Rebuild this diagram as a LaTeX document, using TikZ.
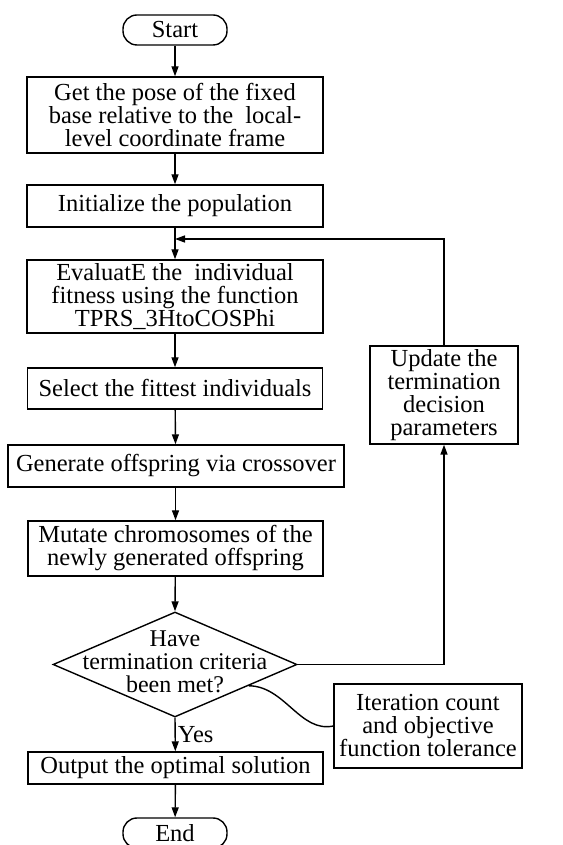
\documentclass[tikz,border=0pt]{standalone}
\usepackage{fontspec}
\setmainfont{Liberation Serif}
\usetikzlibrary{shapes.geometric,arrows.meta,calc}

\begin{document}
\begin{tikzpicture}[x=1pt, y=1pt,
  box/.style={draw, line width=1.4pt, align=center, inner sep=1pt,
    font=\fontsize{24.5}{23}\selectfont},
  term/.style={box, rounded corners=14pt, minimum width=104pt, minimum height=30pt},
  flow/.style={line width=1.4pt, -{Triangle[length=10pt,width=7pt]}},
  link/.style={line width=1.4pt}]
  \useasboundingbox (0,0) rectangle (562,845);

  % Main column
  \node[term] (start) at (175,815) {Start};
  \node[box, minimum width=296pt, minimum height=76pt] (pose) at (175,730)
    {Get the pose of the fixed\\base relative to the~ local-\\level coordinate frame};
  \node[box, minimum width=296pt, minimum height=42pt] (init) at (175,639)
    {Initialize the population};
  \node[box, minimum width=296pt, minimum height=73pt] (eval) at (175,548.5)
    {EvaluatE the~ individual\\fitness using the function\\TPRS\_3HtoCOSPhi};
  \node[box, minimum width=295pt, minimum height=41pt] (select) at (175,456.5)
    {Select the fittest individuals};
  \node[box, minimum width=336pt, minimum height=42pt] (cross) at (176,379)
    {Generate offspring via crossover};
  \node[box, minimum width=295pt, minimum height=55pt] (mutate) at (175.5,296.5)
    {Mutate chromosomes of the\\newly generated offspring};
  % Decision
  \node[draw, diamond, line width=1.4pt, inner sep=0pt,
    minimum width=244pt, minimum height=105pt] (check) at (175,180.5) {};
  \node[align=center, inner sep=0pt, font=\fontsize{24}{23}\selectfont]
    (checktext) at (175,183) {Have\\termination criteria\\been met?};
  \node[box, minimum width=295pt, minimum height=32pt] (output) at (175.5,77)
    {Output the optimal solution};
  \node[term] (end) at (175,12) {End};

  % Side boxes
  \node[box, minimum width=148pt, minimum height=98pt] (update) at (444,450)
    {Update the\\termination\\decision\\parameters};
  \node[box, minimum width=188pt, minimum height=84pt] (note) at (428,119)
    {Iteration count\\and objective\\function tolerance};

  % Connectors
  \coordinate (loop) at (175,606);
  \draw[flow] (start) -- (pose);
  \draw[flow] (pose) -- (init);
  \draw[flow] (init) -- (eval);
  \draw[flow] (eval) -- (select);
  \draw[flow] (select) -- (mutate.north |- cross.north);
  \draw[flow] (cross.south -| mutate.north) -- (mutate);
  \draw[flow] (mutate) -- (check.north);
  \draw[flow] (check.south) -- node[right, font=\fontsize{24.5}{23}\selectfont,
    inner sep=2pt] (yes) {Yes} (output);
  \draw[flow] (output) -- (end);
  \draw[flow] (check.east) -| (update.south);
  \draw[flow] (update.north) |- (loop);
  \draw[link] ($(check.east)!0.4!(check.south)$)
    .. controls (285,159) and (300,112) .. (note.west);
\end{tikzpicture}
\end{document}
